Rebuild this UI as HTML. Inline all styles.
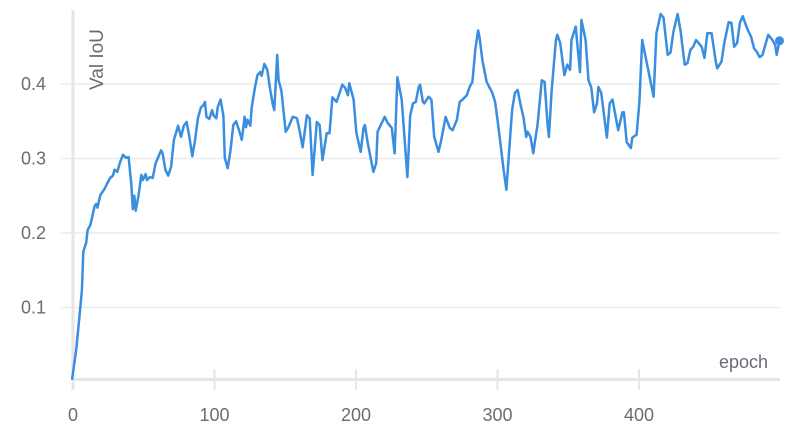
<!DOCTYPE html>
<html><head><meta charset="utf-8"><style>
html,body{margin:0;padding:0;background:#fff;width:807px;height:437px;overflow:hidden}
svg{display:block;font-family:"Liberation Sans",sans-serif}
</style></head><body>
<svg id="chart" width="807" height="437" viewBox="0 0 807 437">
<g id="grid"></g>
<g id="axes"></g>
<g id="series"></g>
<text x="0" y="0" transform="translate(103,90) rotate(-90)" font-size="19" fill="#6b6b76">Val IoU</text>
<text x="768" y="368" text-anchor="end" font-size="18" fill="#6b6b76">epoch</text>
</svg>
<script>
const epochs=[0,3,5,7,8,10,11,13,16,17,18,20,23,25,27,29,30,32,34,36,38,40,42,43,44,45,47,49,50,52,53,55,57,59,61,63,64,66,68,70,72,75,77,79,81,83,85,87,89,91,93,94,95,97,99,100,102,103,105,107,108,110,112,114,116,119,120,122,123,124,126,127,129,131,133,134,136,138,140,142,143,145,146,148,151,153,156,159,161,163,166,168,170,173,175,177,180,182,184,187,191,193,195,196,199,201,204,206,207,209,213,215,216,219,221,223,226,228,230,233,237,239,241,243,245,246,248,249,252,254,256,259,261,264,267,269,272,274,276,279,281,283,285,287,288,290,293,297,299,301,305,307,308,311,313,315,317,319,321,322,324,326,327,329,332,334,336,337,339,342,343,345,348,350,352,353,356,359,360,363,365,367,369,371,372,374,378,380,382,386,389,390,392,395,396,399,401,403,407,411,413,416,418,421,423,425,428,430,433,435,437,439,441,445,447,449,452,453,455,456,459,461,464,466,468,470,472,474,477,480,482,484,486,488,492,495,497,498,500];
const values=[.003,.043,.083,.123,.175,.187,.204,.211,.236,.239,.234,.251,.259,.267,.274,.277,.285,.282,.295,.305,.301,.302,.264,.232,.25,.23,.25,.278,.271,.279,.271,.275,.274,.293,.302,.311,.307,.285,.277,.289,.325,.344,.329,.344,.349,.329,.303,.325,.354,.368,.372,.376,.356,.353,.365,.358,.354,.369,.379,.357,.301,.287,.311,.345,.35,.332,.325,.356,.342,.352,.344,.368,.392,.412,.416,.411,.427,.419,.393,.372,.365,.439,.405,.391,.336,.342,.356,.354,.336,.315,.358,.354,.278,.349,.345,.298,.334,.334,.382,.376,.399,.395,.385,.401,.379,.334,.309,.341,.345,.321,.282,.294,.336,.348,.356,.348,.341,.307,.409,.379,.275,.358,.374,.376,.396,.399,.376,.374,.383,.379,.329,.309,.325,.356,.341,.338,.352,.376,.379,.385,.396,.403,.446,.472,.463,.432,.403,.388,.376,.348,.285,.258,.285,.365,.388,.392,.372,.356,.329,.336,.329,.307,.321,.345,.405,.403,.348,.329,.392,.459,.466,.455,.412,.426,.419,.459,.477,.416,.486,.459,.405,.395,.362,.374,.396,.388,.328,.374,.379,.338,.362,.362,.322,.314,.328,.332,.376,.459,.421,.383,.468,.494,.489,.439,.442,.470,.494,.472,.426,.428,.446,.450,.459,.450,.435,.468,.468,.455,.430,.421,.430,.455,.483,.482,.450,.455,.482,.491,.475,.463,.448,.443,.436,.439,.466,.459,.452,.439,.458];
const yTicks=[0.1,0.2,0.3,0.4];
const yTickLabels=["0.1","0.2","0.3","0.4"];
const xTicks=[0,100,200,300,400];
const xTickLabels=["0","100","200","300","400"];

const NS="http://www.w3.org/2000/svg";
const xS=e=>72+e*1.415;
const yS=v=>382-v*745;
function mk(tag,attrs,parent){const el=document.createElementNS(NS,tag);for(const k in attrs)el.setAttribute(k,attrs[k]);parent.appendChild(el);return el;}
const grid=document.getElementById('grid'),axes=document.getElementById('axes'),series=document.getElementById('series');
yTicks.forEach((t,i)=>{
  const y=yS(t);
  const g=mk('line',{x1:61,x2:780,y1:y,y2:y,stroke:'#ebebeb','stroke-width':1.5},grid);
  
  
  const tx=mk('text',{x:46,y:y+6,'text-anchor':'end','font-size':18,fill:'#6b6b76'},axes);
  tx.textContent=yTickLabels[i];
  
  
});
const ya=mk('line',{x1:73,x2:73,y1:10,y2:390,stroke:'#e6e6e6','stroke-width':3},axes);


const xa=mk('line',{x1:71,x2:780,y1:379.5,y2:379.5,stroke:'#e6e6e6','stroke-width':3},axes);


xTicks.forEach((t,i)=>{
  const x=xS(t)+1;
  const tk=mk('line',{x1:x,x2:x,y1:369,y2:390,stroke:'#e6e6e6','stroke-width':2},axes);
  
  
  const tx=mk('text',{x:x,y:421,'text-anchor':'middle','font-size':18,fill:'#6b6b76'},axes);
  tx.textContent=xTickLabels[i];
  
  
});
const d=epochs.map((e,i)=>(i?'L':'M')+xS(e).toFixed(1)+','+yS(values[i]).toFixed(1)).join('');
const p=mk('path',{d:d,fill:'none',stroke:'#3a8ee0','stroke-width':2.5,'stroke-linejoin':'round'},series);


const last=epochs.length-1;
const c=mk('circle',{cx:xS(epochs[last]),cy:yS(values[last]),r:4.5,fill:'#3a8ee0'},series);


</script>
</body></html>
